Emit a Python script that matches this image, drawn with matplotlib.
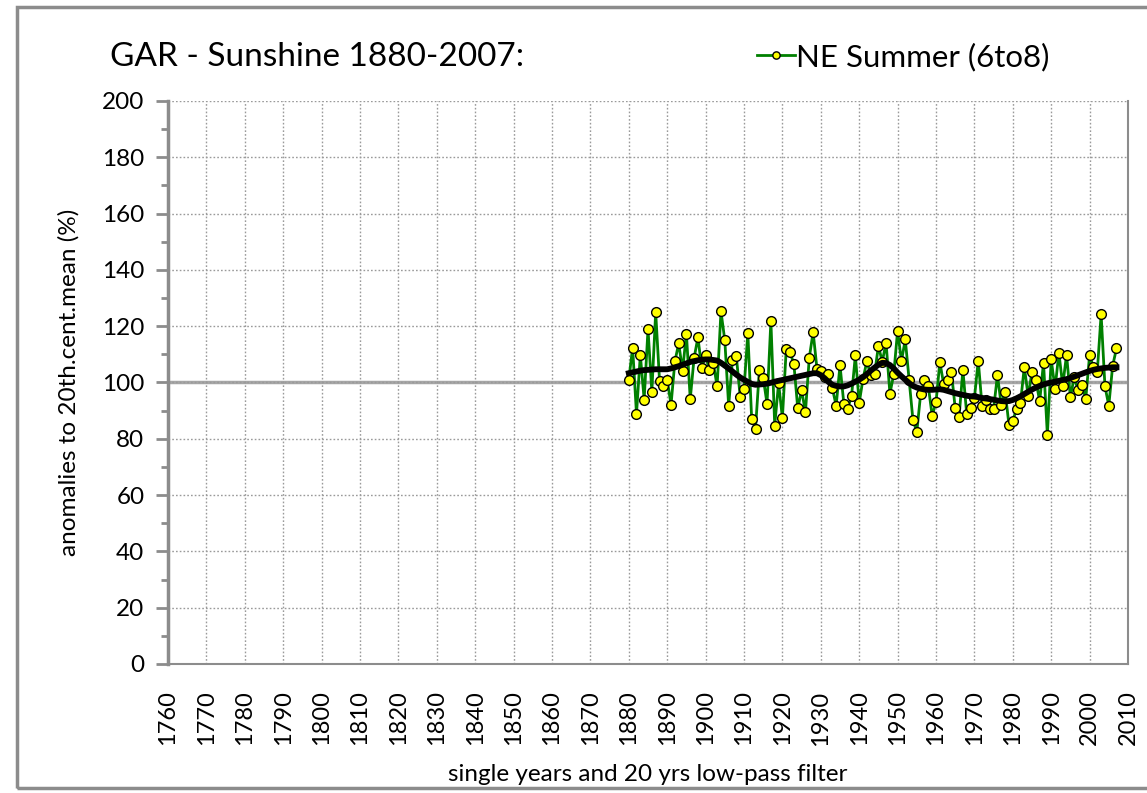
import numpy as np
import matplotlib
matplotlib.use("Agg")
import matplotlib.pyplot as plt
from matplotlib.patches import Rectangle

plt.rcParams['font.family'] = ['Lato', 'DejaVu Sans']

# NE summer sunshine, anomalies to 20th century mean (%)
years = np.arange(1880, 2008)
sunshine = [
    101.0, 112.4, 88.8, 109.8, 93.9, 119.0, 96.7, 125.0, 100.7, 98.9,    # 1880s
    101.0, 92.1, 107.5, 113.9, 104.2, 117.4, 94.1, 108.7, 116.0, 105.0,  # 1890s
    109.8, 104.5, 107.0, 98.6, 125.3, 115.0, 91.8, 108.0, 109.4, 95.0,   # 1900s
    97.6, 117.6, 87.0, 83.6, 104.5, 101.6, 92.5, 121.9, 84.7, 99.8,      # 1910s
    87.4, 111.8, 110.8, 106.4, 90.8, 97.3, 89.4, 108.8, 117.9, 104.9,    # 1920s
    104.1, 101.9, 103.0, 98.0, 91.8, 106.1, 92.5, 90.7, 95.1, 109.6,     # 1930s
    92.7, 101.4, 107.5, 102.6, 102.9, 113.0, 107.4, 114.1, 96.0, 103.0,  # 1940s
    118.4, 107.6, 115.3, 100.8, 86.6, 82.5, 95.9, 100.9, 98.6, 88.2,     # 1950s
    92.9, 107.3, 99.4, 100.9, 103.9, 90.9, 87.6, 104.5, 88.7, 90.9,      # 1960s
    94.4, 107.8, 91.5, 93.9, 90.6, 90.6, 102.6, 91.9, 96.8, 85.0,        # 1970s
    86.5, 90.6, 92.7, 105.6, 95.1, 103.8, 100.9, 93.3, 107.1, 81.4,      # 1980s
    108.2, 97.8, 110.6, 98.9, 109.9, 94.7, 102.0, 97.2, 99.2, 94.2,      # 1990s
    109.8, 105.4, 103.8, 124.2, 98.6, 91.8, 105.9, 112.1,                # 2000s
]
# 20 yrs low-pass filter
lowpass = [
    103.3, 103.6, 103.9, 104.2, 104.4, 104.5, 104.6, 104.7, 104.7, 104.7,
    104.7, 105.0, 105.4, 105.8, 106.3, 106.8, 107.3, 107.6, 107.9, 108.1,
    108.2, 108.2, 108.0, 107.8, 107.0, 106.0, 105.0, 103.9, 102.8, 101.8,
    101.0, 100.2, 99.5, 99.2, 99.3, 99.4, 99.6, 99.9, 100.3, 100.6,
    100.9, 101.2, 101.5, 101.8, 102.1, 102.4, 102.7, 103.0, 103.3, 103.3,
    102.6, 101.5, 100.2, 99.2, 98.8, 98.6, 98.6, 99.0, 99.6, 100.3,
    101.0, 101.9, 103.0, 104.2, 105.3, 106.3, 107.0, 106.9, 106.2, 105.0,
    103.5, 102.2, 101.0, 99.8, 98.8, 98.2, 97.8, 97.5, 97.4, 97.4,
    97.5, 97.6, 97.4, 97.0, 96.6, 96.2, 95.9, 95.6, 95.3, 95.1,
    95.0, 94.8, 94.5, 94.3, 94.1, 93.9, 93.6, 93.4, 93.3, 93.4,
    93.8, 94.4, 95.1, 95.9, 96.7, 97.5, 98.2, 98.8, 99.3, 99.7,
    100.0, 100.3, 100.6, 100.9, 101.2, 101.6, 102.1, 102.6, 103.1, 103.6,
    104.1, 104.5, 104.8, 105.0, 105.2, 105.3, 105.4, 105.4,
]
x_ticks = list(range(1760, 2011, 10))
y_ticks = list(range(0, 201, 20))

fig = plt.figure(figsize=(11.47, 7.93), dpi=100)
ax = fig.add_axes([168 / 1147, 1 - 664 / 793, (1128 - 168) / 1147, (664 - 101) / 793])

# outer chart frame
fig.patches.append(Rectangle((17 / 1147, 5 / 793), 1.2, 781 / 793, transform=fig.transFigure,
                             fill=False, edgecolor='#8c8c8c', linewidth=2.5))

ax.set_xlim(1760, 2010)
ax.set_ylim(0, 200)
ax.set_xticks(x_ticks)
ax.set_yticks(y_ticks)
ax.set_yticks(range(10, 200, 20), minor=True)
ax.set_xticklabels([str(t) for t in x_ticks], rotation=90, fontsize=17)
ax.tick_params(axis='y', which='major', length=9, width=2, color='#8c8c8c', labelsize=17.5, pad=8)
ax.tick_params(axis='y', which='minor', length=5, width=2, color='#8c8c8c')
ax.tick_params(axis='x', length=0, pad=19)

ax.grid(True, which='major', axis='both', linestyle=(0, (1.2, 1.5)), color='#9a9a9a', linewidth=1)
ax.axhline(100, color='#a6a6a6', linewidth=2.5, zorder=1.5)

for side in ['left', 'bottom', 'right']:
    ax.spines[side].set_color('#8c8c8c')
ax.spines['left'].set_linewidth(2.5)
ax.spines['bottom'].set_linewidth(1.5)
ax.spines['right'].set_linewidth(1.5)
ax.spines['top'].set_visible(False)

ax.plot(years, sunshine, color='#008000', linewidth=2, marker='o', markersize=7,
        markerfacecolor='#ffff00', markeredgecolor='black', markeredgewidth=1,
        label='NE Summer (6to8)', zorder=3)
ax.plot(years, lowpass, color='black', linewidth=4.2, zorder=4)

ax.set_xlabel('single years and 20 yrs low-pass filter', fontsize=17.5, labelpad=13)
ax.set_ylabel('anomalies to 20th.cent.mean (%)', fontsize=17.5, labelpad=16)

fig.text(110 / 1147, 1 - 57 / 793, 'GAR - Sunshine 1880-2007:', fontsize=24,
         ha='left', va='center')
ax.legend(loc='center left', bbox_to_anchor=(757 / 1147, 1 - 57 / 793),
          bbox_transform=fig.transFigure, frameon=False, fontsize=22.5,
          handlelength=1.2, handletextpad=0.05, borderpad=0, borderaxespad=0,
          markerscale=0.75)

fig.savefig('out.png', dpi=100)
